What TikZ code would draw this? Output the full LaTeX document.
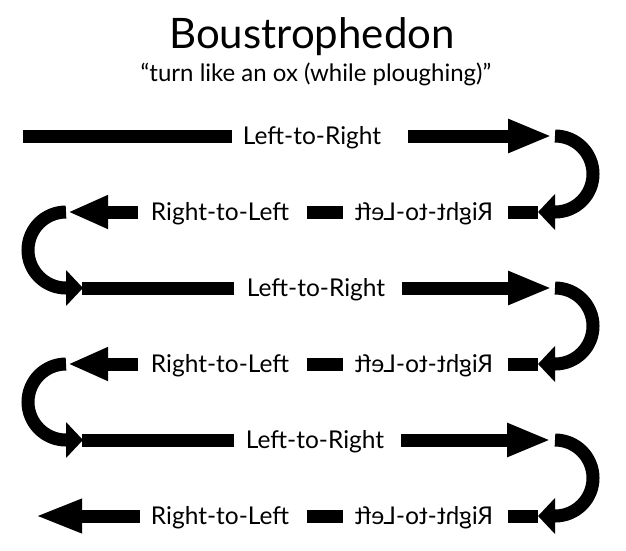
\documentclass[tikz,border=0pt]{standalone}
\usepackage{fontspec}
\setmainfont{Lato}
\usetikzlibrary{arrows.meta}
\begin{document}
\begin{tikzpicture}[x=1pt,y=-1pt,
  bar/.style={line width=13pt},
  rowarrow/.style={line width=13pt,-{Triangle[length=44pt,width=31pt]}},
  turnarrow/.style={line width=13pt,-{Triangle[length=17pt,width=35pt]}},
  lbl/.style={font=\fontsize{24.5}{28}\selectfont,inner sep=0pt,anchor=base},
  ttl/.style={font=\fontsize{42}{48}\selectfont,inner sep=0pt,anchor=base},
  sub/.style={font=\fontsize{24}{28}\selectfont,inner sep=0pt,anchor=base}]
\useasboundingbox (0,0) rectangle (626,550);
\fill[white] (0,0) rectangle (626,550);
% titles
\node[ttl] (title) at (312,48) {Boustrophedon};
\node[sub] (subtitle) at (316,81) {“turn like an ox (while ploughing)”};
% row y positions: 136, 212, 288, 364, 440, 516
% Row 1
\coordinate (r1a) at (23,136); \coordinate (r1b) at (232,136);
\draw[bar] (r1a) -- (r1b);
\node[lbl] (t1) at (312,144) {Left-to-Right};
\coordinate (r1c) at (408,136); \coordinate (r1d) at (552,136);
\draw[rowarrow] (r1c) -- (r1d);
% Right turn 1
\coordinate (c1s) at (555,136); \coordinate (c1e) at (538,212);
\draw[turnarrow] (c1s) arc[start angle=-90,end angle=90,radius=38] -- (c1e);
% Row 2
\coordinate (r2a) at (538,212); \coordinate (r2b) at (508,212);
\draw[bar] (r2a) -- (r2b);
\node[lbl,xscale=-1] (m2) at (424,220) {Right-to-Left};
\coordinate (r2c) at (343,212); \coordinate (r2d) at (307,212);
\draw[bar] (r2c) -- (r2d);
\node[lbl] (t2) at (220,220) {Right-to-Left};
\coordinate (r2e) at (138,212); \coordinate (r2f) at (68,212);
\draw[line width=13pt,-{Triangle[length=40pt,width=31pt]}] (r2e) -- (r2f);
% Left turn 1
\coordinate (d1s) at (66,212); \coordinate (d1e) at (83,288);
\draw[turnarrow] (d1s) arc[start angle=270,end angle=90,radius=38] -- (d1e);
% Row 3
\coordinate (r3a) at (82,288); \coordinate (r3b) at (234,288);
\draw[bar] (r3a) -- (r3b);
\node[lbl] (t3) at (316,296) {Left-to-Right};
\coordinate (r3c) at (402,288); \coordinate (r3d) at (552,288);
\draw[rowarrow] (r3c) -- (r3d);
% Right turn 2
\coordinate (c2s) at (555,288); \coordinate (c2e) at (538,364);
\draw[turnarrow] (c2s) arc[start angle=-90,end angle=90,radius=38] -- (c2e);
% Row 4
\coordinate (r4a) at (538,364); \coordinate (r4b) at (508,364);
\draw[bar] (r4a) -- (r4b);
\node[lbl,xscale=-1] (m4) at (424,372) {Right-to-Left};
\coordinate (r4c) at (343,364); \coordinate (r4d) at (307,364);
\draw[bar] (r4c) -- (r4d);
\node[lbl] (t4) at (220,372) {Right-to-Left};
\coordinate (r4e) at (138,364); \coordinate (r4f) at (68,364);
\draw[line width=13pt,-{Triangle[length=40pt,width=31pt]}] (r4e) -- (r4f);
% Left turn 2
\coordinate (d2s) at (66,364); \coordinate (d2e) at (83,440);
\draw[turnarrow] (d2s) arc[start angle=270,end angle=90,radius=38] -- (d2e);
% Row 5
\coordinate (r5a) at (82,440); \coordinate (r5b) at (234,440);
\draw[bar] (r5a) -- (r5b);
\node[lbl] (t5) at (315,448) {Left-to-Right};
\coordinate (r5c) at (401,440); \coordinate (r5d) at (551,440);
\draw[rowarrow] (r5c) -- (r5d);
% Right turn 3
\coordinate (c3s) at (555,440); \coordinate (c3e) at (538,516);
\draw[turnarrow] (c3s) arc[start angle=-90,end angle=90,radius=38] -- (c3e);
% Row 6
\coordinate (r6a) at (538,516); \coordinate (r6b) at (508,516);
\draw[bar] (r6a) -- (r6b);
\node[lbl,xscale=-1] (m6) at (424,524) {Right-to-Left};
\coordinate (r6c) at (343,516); \coordinate (r6d) at (307,516);
\draw[bar] (r6c) -- (r6d);
\node[lbl] (t6) at (220,524) {Right-to-Left};
\coordinate (r6e) at (140,516); \coordinate (r6f) at (35,516);
\draw[line width=13pt,-{Triangle[length=47pt,width=31pt]}] (r6e) -- (r6f);
\end{tikzpicture}
\end{document}
